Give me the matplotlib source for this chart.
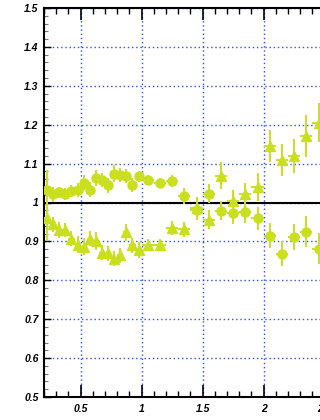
import matplotlib.pyplot as plt
import numpy as np
from matplotlib.ticker import MultipleLocator

# bin centres: fine bins below 1, coarse bins above
x_fine = [0.225, 0.275, 0.325, 0.375, 0.425, 0.475, 0.525, 0.575,
          0.625, 0.675, 0.725, 0.775, 0.825, 0.875, 0.925, 0.975]
x_coarse = [1.05, 1.15, 1.25, 1.35, 1.45, 1.55, 1.65, 1.75,
            1.85, 1.95, 2.05, 2.15, 2.25, 2.35, 2.45]
x_halfwidth = [0.025] * len(x_fine) + [0.05] * len(x_coarse)
x_vals = x_fine + x_coarse

# circles (upper series)
circ_y = [1.033, 1.021, 1.026, 1.022, 1.029, 1.032, 1.051, 1.033,
          1.063, 1.059, 1.044, 1.074, 1.070, 1.067, 1.044, 1.067,
          1.059, 1.051, 1.056, 1.016, 0.982, 1.023, 0.979, 0.972,
          0.975, 0.959, 0.915, 0.868, 0.912, 0.925, 0.881]
circ_err = [0.050, 0.020, 0.015, 0.015, 0.015, 0.018, 0.020, 0.020,
            0.020, 0.018, 0.020, 0.022, 0.018, 0.018, 0.018, 0.015,
            0.012, 0.012, 0.015, 0.020, 0.022, 0.025, 0.025, 0.028,
            0.028, 0.030, 0.032, 0.032, 0.034, 0.040, 0.040]

# triangles (lower series)
tri_y = [0.961, 0.944, 0.929, 0.929, 0.907, 0.892, 0.886, 0.907,
         0.901, 0.871, 0.869, 0.856, 0.864, 0.924, 0.890, 0.878,
         0.892, 0.892, 0.935, 0.931, 0.985, 0.956, 1.069, 1.003,
         1.021, 1.040, 1.145, 1.110, 1.119, 1.170, 1.205]
tri_err = [0.060, 0.020, 0.020, 0.018, 0.020, 0.022, 0.022, 0.020,
           0.022, 0.020, 0.020, 0.020, 0.020, 0.022, 0.020, 0.020,
           0.015, 0.015, 0.018, 0.020, 0.030, 0.025, 0.035, 0.030,
           0.030, 0.035, 0.041, 0.041, 0.043, 0.054, 0.050]

col = "#c9df1f"
label_font = dict(family="Liberation Sans", style="italic", weight="bold", size=7.5)

fig = plt.figure(figsize=(3.2, 4.2), dpi=100)
ax = fig.add_axes([44 / 320, 1 - 397 / 420, 2.6 * 122 / 320, 389 / 420])

ax.grid(True, which="major", linestyle=(0, (1, 2)), color="#2a4dff", linewidth=1.0)
ax.axhline(1.0, color="black", linewidth=1.5, zorder=2)

ax.errorbar(x_vals, tri_y, yerr=tri_err, xerr=x_halfwidth, fmt="^", color=col,
            markersize=6.5, elinewidth=1.4, capsize=0, zorder=3)
ax.errorbar(x_vals, circ_y, yerr=circ_err, xerr=x_halfwidth, fmt="o", color=col,
            markersize=6.5, elinewidth=1.4, capsize=0, zorder=4)

ax.set_xlim(0.2, 2.8)
ax.set_ylim(0.5, 1.5)
ax.xaxis.set_major_locator(MultipleLocator(0.5))
ax.xaxis.set_minor_locator(MultipleLocator(0.1))
ax.yaxis.set_major_locator(MultipleLocator(0.1))
ax.yaxis.set_minor_locator(MultipleLocator(0.02))

ax.tick_params(axis="x", which="major", direction="in", length=8.5, width=1.2,
               top=True, pad=5)
ax.tick_params(axis="x", which="minor", direction="in", length=4, width=1.0, top=True)
ax.tick_params(axis="y", which="major", direction="in", length=5, width=1.0,
               right=False, pad=4)
ax.tick_params(axis="y", which="minor", direction="in", length=3, width=0.8,
               right=False, color="#777777")

ax.set_xticks([0.5, 1, 1.5, 2, 2.5])
ax.set_xticklabels(["0.5", "1", "1.5", "2", "2.5"], **label_font)
yt = np.round(np.arange(0.5, 1.51, 0.1), 1)
ax.set_yticks(yt)
ax.set_yticklabels(["%g" % v for v in yt], **label_font)

for s in ["left", "top", "bottom", "right"]:
    ax.spines[s].set_linewidth(1.5)

fig.savefig("out.png", dpi=100)
